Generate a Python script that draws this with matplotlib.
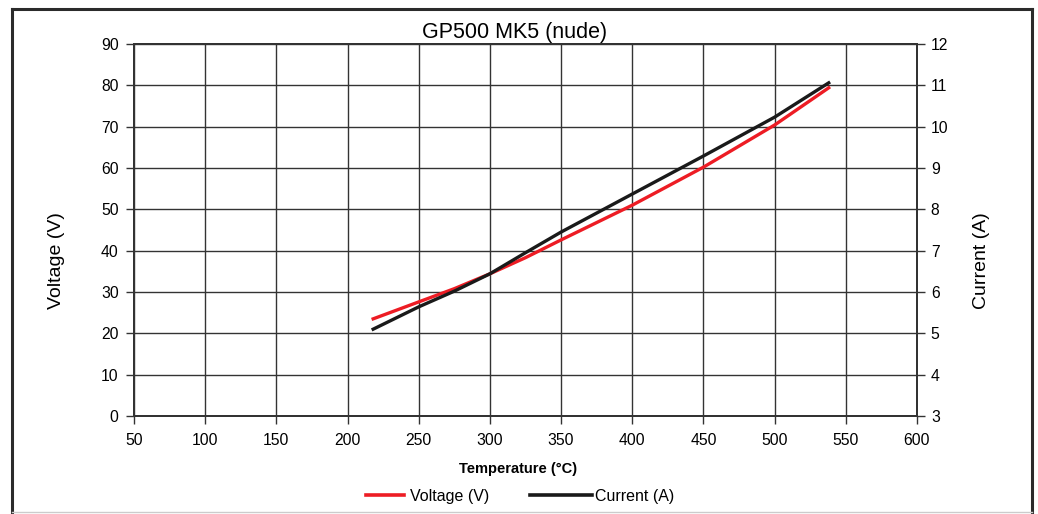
import matplotlib.pyplot as plt
from matplotlib.lines import Line2D

plt.rcParams['font.family'] = ['Liberation Sans', 'DejaVu Sans']

# data
temp = [218, 250, 275, 300, 325, 350, 400, 450, 500, 538]
voltage = [23.5, 27.6, 30.8, 34.4, 38.3, 42.6, 51.0, 60.2, 70.4, 79.4]
current = [5.1, 5.64, 6.02, 6.44, 6.95, 7.45, 8.37, 9.29, 10.23, 11.06]

x_ticks = list(range(50, 601, 50))
v_ticks = list(range(0, 91, 10))
i_ticks = list(range(3, 13))

red = '#ed1c24'
blk = '#1a1a1a'
grid_c = '#333333'

fig = plt.figure(figsize=(10.38, 5.14), dpi=100)
ax = fig.add_axes([0.1291, 0.1907, 0.7543, 0.7237])
ax2 = ax.twinx()

ax.set_xlim(50, 600)
ax.set_ylim(0, 90)
ax2.set_ylim(3, 12)
ax.set_xticks(x_ticks)
ax.set_yticks(v_ticks)
ax2.set_yticks(i_ticks)
ax.grid(True, color=grid_c, linewidth=1.0)
ax.set_axisbelow(True)

for a in (ax, ax2):
    for s in a.spines.values():
        s.set_color('#333333')
        s.set_linewidth(1.4)
    a.tick_params(labelsize=11.3, color='#333333', length=6, width=1, direction='out')

ax.tick_params(axis='x', pad=6)
ax.tick_params(axis='y', pad=5)
ax2.tick_params(axis='y', pad=4)

ax.plot(temp, voltage, color=red, linewidth=2.4, zorder=3)
ax2.plot(temp, current, color=blk, linewidth=2.4, zorder=4)

ax.set_title('GP500 MK5 (nude)', fontsize=15.5, pad=4, x=0.4866)
ax.set_ylabel('Voltage (V)', fontsize=14, labelpad=26)
ax.yaxis.label.set_y(0.417)
ax2.set_ylabel('Current (A)', fontsize=14, labelpad=18)
ax2.yaxis.label.set_y(0.417)
fig.text(0.4995, 0.087, 'Temperature (°C)', ha='center', va='center', fontsize=10.5,
         fontweight='bold')

# legend: two single entries, handles of different length as in the original
leg1 = fig.legend([Line2D([], [], color=red, linewidth=2.6)], ['Voltage (V)'],
                  loc='center left', bbox_to_anchor=(0.3526, 0.034), frameon=False,
                  fontsize=11.5, handlelength=2.4, handletextpad=0.35, borderpad=0,
                  borderaxespad=0)
leg2 = fig.legend([Line2D([], [], color=blk, linewidth=2.6)], ['Current (A)'],
                  loc='center left', bbox_to_anchor=(0.5106, 0.034), frameon=False,
                  fontsize=11.5, handlelength=3.9, handletextpad=0.15, borderpad=0,
                  borderaxespad=0)

# outer frame
fc = '#2b2b2b'
fig.add_artist(Line2D([0.0116, 0.0116], [0.0, 0.983], color=fc, linewidth=2.2, transform=fig.transFigure))
fig.add_artist(Line2D([0.0116, 0.9942], [0.983, 0.983], color=fc, linewidth=2.2, transform=fig.transFigure))
fig.add_artist(Line2D([0.9942, 0.9942], [0.983, 0.0], color=fc, linewidth=2.2, transform=fig.transFigure))
fig.add_artist(Line2D([0.0116, 0.9942], [0.004, 0.004], color='#cccccc', linewidth=1.0, transform=fig.transFigure))

fig.savefig('out.png', dpi=100)
